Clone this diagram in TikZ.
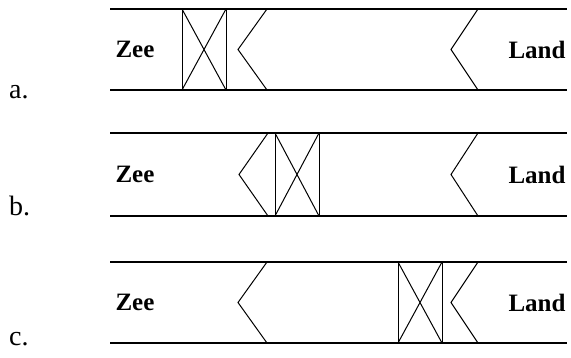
\documentclass[tikz,border=0pt]{standalone}
\usepackage{fontspec}
\setmainfont{Liberation Serif}
\begin{document}
\begin{tikzpicture}[x=1pt,y=-1pt,
  rail/.style={line width=2pt},
  thin/.style={line width=1pt},
  place/.style={font=\bfseries\fontsize{25}{25}\selectfont, inner sep=0pt},
  tag/.style={font=\fontsize{28}{28}\selectfont, inner sep=0pt, anchor=base west}]
\useasboundingbox (0,0) rectangle (571,357);
\foreach \ty/\by/\bx/\cx/\lab/\ly in {9/90/182/267/a./98, 133/216/275/268/b./215, 262/343/398/267/c./345}{
  \pgfmathsetmacro{\my}{(\ty+\by)/2}
  \draw[rail] (110,\ty) -- (567,\ty);
  \draw[rail] (110,\by) -- (567,\by);
  % lock gate box
  \draw[thin] (\bx,\ty) rectangle (\bx+44,\by);
  \draw[thin] (\bx,\ty) -- (\bx+44,\by);
  \draw[thin] (\bx+44,\ty) -- (\bx,\by);
  % chevrons
  \draw[thin] (\cx,\ty) -- (\cx-29,\my) -- (\cx,\by);
  \draw[thin] (478,\ty) -- (451,\my) -- (478,\by);
  \node[place] at (135,\my) {Zee};
  \node[place] at (537,\my) {Land};
  \node[tag] at (9,\ly) {\lab};
}
\end{tikzpicture}
\end{document}
